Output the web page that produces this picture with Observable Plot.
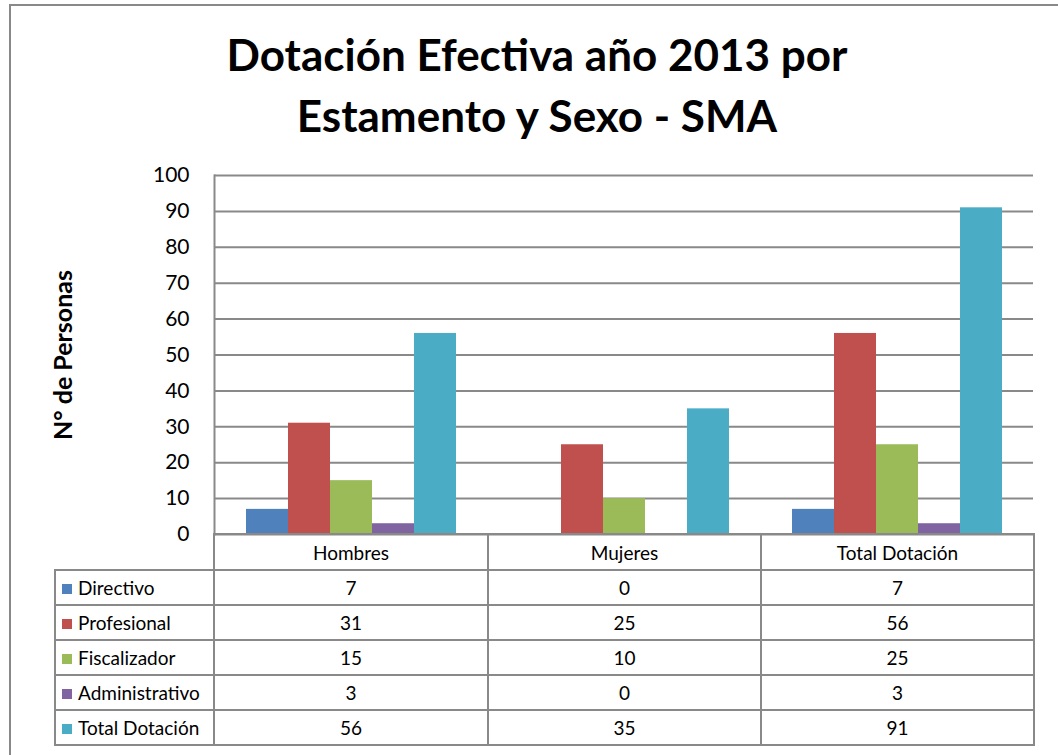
<!DOCTYPE html>
<html>
<head>
<meta charset="utf-8">
<script src="https://cdn.jsdelivr.net/npm/d3@7"></script>
<script src="https://cdn.jsdelivr.net/npm/@observablehq/plot@0.6"></script>
<style>
  html, body { margin: 0; padding: 0; background: #fff; overflow: hidden; width: 1058px; height: 755px; }
  #page { position: relative; width: 1058px; height: 755px; font-family: Lato, "Open Sans", sans-serif; }
  #border { position: absolute; left: 9px; top: 4px; width: 1100px; height: 800px; border: 2px solid #898989; box-sizing: border-box; }
  #title { position: absolute; left: 0; top: 24px; width: 1074px; text-align: center; font-weight: bold; font-size: 44px; line-height: 61px; color: #000; }
  #ylabel { position: absolute; left: 62px; top: 355px; transform: translate(-50%, -50%) rotate(-90deg); font-weight: bold; font-size: 25px; white-space: nowrap; color: #000; }
  #chart { position: absolute; left: 0; top: 160px; }
  table { position: absolute; left: 54px; top: 533px; border-collapse: collapse; table-layout: fixed; width: 981px; font-size: 19px; color: #000; }
  td, th { border: 2px solid #898989; padding: 0; text-align: center; font-weight: normal; }
  th { height: 34px; }
  td { height: 33px; }
  th.blank { border-top: none; border-left: none; }
  td.legend { text-align: left; padding-left: 6px; white-space: nowrap; }
  .sw { display: inline-block; width: 10px; height: 10px; margin-right: 6px; vertical-align: 1px; }
</style>
</head>
<body>
<div id="page">
  <div id="border"></div>
  <div id="title">Dotación Efectiva año 2013 por<br>Estamento y Sexo - SMA</div>
  <div id="ylabel">N° de Personas</div>
  <div id="chart"></div>
  <table id="tbl"></table>
</div>
<script>
const categories = ["Hombres", "Mujeres", "Total Dotación"];
const series = ["Directivo", "Profesional", "Fiscalizador", "Administrativo", "Total Dotación"];
const seriesColors = ["#4F81BD", "#C0504D", "#9BBB59", "#8064A2", "#4BACC6"];
const directivo = [7, 0, 7];
const profesional = [31, 25, 56];
const fiscalizador = [15, 10, 25];
const administrativo = [3, 0, 3];
const totalDotacion = [56, 35, 91];
const yTicks = [0, 10, 20, 30, 40, 50, 60, 70, 80, 90, 100];

const seriesValues = [directivo, profesional, fiscalizador, administrativo, totalDotacion];
const data = [];
series.forEach((s, si) => {
  categories.forEach((c, ci) => {
    data.push({ cat: c, series: s, value: seriesValues[si][ci] });
  });
});

const chart = Plot.plot({
  width: 1058,
  height: 395,
  marginTop: 15,
  marginBottom: 21,
  marginLeft: 213,
  marginRight: 25,
  style: { fontFamily: "Lato, 'Open Sans', sans-serif", color: "#000", background: "transparent" },
  fx: { domain: categories, padding: 0, axis: null, label: null },
  x: { domain: series, paddingInner: 0, paddingOuter: 0.75, axis: null },
  y: { domain: [0, 100], label: null },
  color: { domain: series, range: seriesColors },
  marks: [
    Plot.gridY(yTicks, { stroke: "#898989", strokeOpacity: 1, strokeWidth: 2 }),
    Plot.frame({ anchor: "left", facetAnchor: "left", stroke: "#898989", strokeWidth: 2 }),
    Plot.barY(data, { fx: "cat", x: "series", y: "value", fill: "series" }),
    Plot.axisY(yTicks, { tickSize: 0, tickPadding: 25, fontSize: 21, label: null, fill: "#000" })
  ]
});
document.getElementById("chart").appendChild(chart);

// data table below the chart
const tbl = document.getElementById("tbl");
const colgroup = document.createElement("colgroup");
[159, 274, 273, 273].forEach(w => {
  const col = document.createElement("col");
  col.style.width = w + "px";
  colgroup.appendChild(col);
});
tbl.appendChild(colgroup);
const head = document.createElement("tr");
const blank = document.createElement("th");
blank.className = "blank";
head.appendChild(blank);
categories.forEach(c => {
  const th = document.createElement("th");
  th.textContent = c;
  head.appendChild(th);
});
tbl.appendChild(head);
series.forEach((s, si) => {
  const tr = document.createElement("tr");
  const lg = document.createElement("td");
  lg.className = "legend";
  const sw = document.createElement("span");
  sw.className = "sw";
  sw.style.background = seriesColors[si];
  lg.appendChild(sw);
  lg.appendChild(document.createTextNode(s));
  tr.appendChild(lg);
  seriesValues[si].forEach(v => {
    const td = document.createElement("td");
    td.textContent = v;
    tr.appendChild(td);
  });
  tbl.appendChild(tr);
});
</script>
</body>
</html>
